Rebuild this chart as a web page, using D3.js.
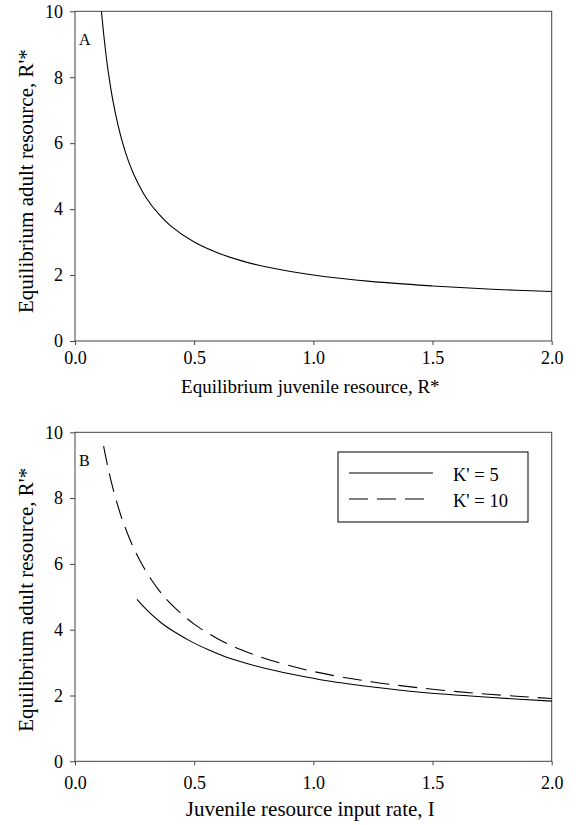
<!DOCTYPE html>
<html>
<head>
<meta charset="utf-8">
<script src="https://cdn.jsdelivr.net/npm/d3@7"></script>
<style>
  html, body { margin: 0; padding: 0; background: #fff; }
  svg { display: block; }
</style>
</head>
<body>
<svg id="chart" width="576" height="825"></svg>
<script>
// ---- Data ----
const xTicks = [0.0, 0.5, 1.0, 1.5, 2.0];
const yTicks = [0, 2, 4, 6, 8, 10];

// Panel A: equilibrium adult resource vs equilibrium juvenile resource
const panelA_x = [0.111, 0.12, 0.13, 0.14, 0.16, 0.18, 0.20, 0.225, 0.25, 0.30, 0.35, 0.40, 0.50, 0.60, 0.70, 0.80, 1.00, 1.25, 1.50, 1.75, 2.00];
const panelA_y = [10.0, 9.33, 8.69, 8.14, 7.25, 6.56, 6.00, 5.44, 5.00, 4.33, 3.86, 3.50, 3.00, 2.67, 2.43, 2.25, 2.00, 1.80, 1.67, 1.57, 1.50];

// Panel B: equilibrium adult resource vs juvenile resource input rate
const seriesNames = ["K' = 5", "K' = 10"];
const k5_x = [0.26, 0.30, 0.36, 0.42, 0.49, 0.56, 0.62, 0.70, 0.80, 0.90, 1.03, 1.25, 1.45, 1.75, 2.00];
const k5_y = [4.92, 4.61, 4.22, 3.92, 3.63, 3.39, 3.21, 3.02, 2.82, 2.66, 2.48, 2.26, 2.10, 1.94, 1.83];
const k10_x = [0.12, 0.135, 0.15, 0.17, 0.20, 0.25, 0.30, 0.35, 0.40, 0.50, 0.60, 0.70, 0.80, 1.00, 1.25, 1.50, 1.75, 2.00];
const k10_y = [9.58, 9.04, 8.56, 8.01, 7.31, 6.42, 5.75, 5.22, 4.80, 4.17, 3.72, 3.38, 3.12, 2.73, 2.41, 2.19, 2.03, 1.91];

// ---- Drawing ----
const svg = d3.select("#chart").attr("font-family", "Liberation Serif");
const axisColor = "#444";
const FONT = `"Liberation Serif", "Times New Roman", serif`;

function setFont(sel, size) {
  sel.attr("font-family", "Liberation Serif").style("font-family", FONT).style("font-size", size + "px");
}

function panel(cfg) {
  const x = d3.scaleLinear().domain([0, 2]).range([cfg.left, cfg.right]);
  const y = d3.scaleLinear().domain([0, 10]).range([cfg.bottom, cfg.top]);
  const g = svg.append("g");

  // frame
  g.append("rect")
    .attr("x", cfg.left).attr("y", cfg.top)
    .attr("width", cfg.right - cfg.left).attr("height", cfg.bottom - cfg.top)
    .attr("fill", "none").attr("stroke", axisColor).attr("stroke-width", 1);

  // x axis
  const xa = g.append("g").attr("transform", `translate(0,${cfg.bottom})`)
    .call(d3.axisBottom(x).tickValues(xTicks).tickFormat(d3.format(".1f")).tickSize(4).tickPadding(cfg.xPad));
  xa.attr("font-family", "Liberation Serif").attr("font-size", 18);
  xa.select(".domain").remove();
  xa.selectAll("line").attr("stroke", axisColor);
  setFont(xa.selectAll("text").attr("fill", "#000"), 18);

  // y axis
  const ya = g.append("g").attr("transform", `translate(${cfg.left},0)`)
    .call(d3.axisLeft(y).tickValues(yTicks).tickFormat(d3.format("d")).tickSize(5).tickPadding(7));
  ya.attr("font-family", "Liberation Serif").attr("font-size", 18);
  ya.select(".domain").remove();
  ya.selectAll("line").attr("stroke", axisColor);
  setFont(ya.selectAll("text").attr("fill", "#000"), 18);

  // titles
  setFont(g.append("text")
    .attr("x", (cfg.left + cfg.right) / 2 - 3).attr("y", cfg.xTitleY)
    .attr("text-anchor", "middle")
    .text(cfg.xTitle), cfg.xTitleSize);
  setFont(g.append("text")
    .attr("transform", `translate(33,${(cfg.top + cfg.bottom) / 2 + cfg.yTitleShift}) rotate(-90)`)
    .attr("text-anchor", "middle")
    .text("Equilibrium adult resource, R'*"), 21);

  // panel letter
  setFont(g.append("text")
    .attr("x", cfg.left + 4).attr("y", cfg.top + 34)
    .text(cfg.letter), 16);

  return { g, x, y };
}

const A = panel({ left: 75, right: 551.7, top: 11.3, bottom: 341, xPad: 6, xTitleY: 393, xTitleSize: 19, yTitleShift: 5,
  xTitle: "Equilibrium juvenile resource, R*", letter: "A" });
const B = panel({ left: 75, right: 551.7, top: 432.3, bottom: 761.3, xPad: 11, xTitleY: 816, xTitleSize: 21, yTitleShift: 3,
  xTitle: "Juvenile resource input rate, I", letter: "B" });

function drawLine(p, xs, ys, dash) {
  const pts = xs.map((v, i) => [v, ys[i]]);
  const line = d3.line().x(d => p.x(d[0])).y(d => p.y(d[1])).curve(d3.curveCatmullRom.alpha(0.5));
  p.g.append("path").datum(pts)
    .attr("d", line).attr("fill", "none").attr("stroke", "#000").attr("stroke-width", 1.1)
    .attr("stroke-dasharray", dash || null);
}

drawLine(A, panelA_x, panelA_y);
drawLine(B, k5_x, k5_y);
drawLine(B, k10_x, k10_y, "19,9");

// legend
const leg = B.g.append("g");
leg.append("rect").attr("x", 338).attr("y", 452).attr("width", 190).attr("height", 70)
  .attr("fill", "#fff").attr("stroke", "#000").attr("stroke-width", 1);
const legDash = [null, "19,9"];
seriesNames.forEach((name, i) => {
  const ly = 473 + i * 26;
  leg.append("line").attr("x1", 349).attr("x2", 433).attr("y1", ly).attr("y2", ly)
    .attr("stroke", "#000").attr("stroke-width", 1.1).attr("stroke-dasharray", legDash[i]);
  setFont(leg.append("text").attr("x", 453).attr("y", ly + 8).text(name), 18.5);
});
</script>
</body>
</html>
